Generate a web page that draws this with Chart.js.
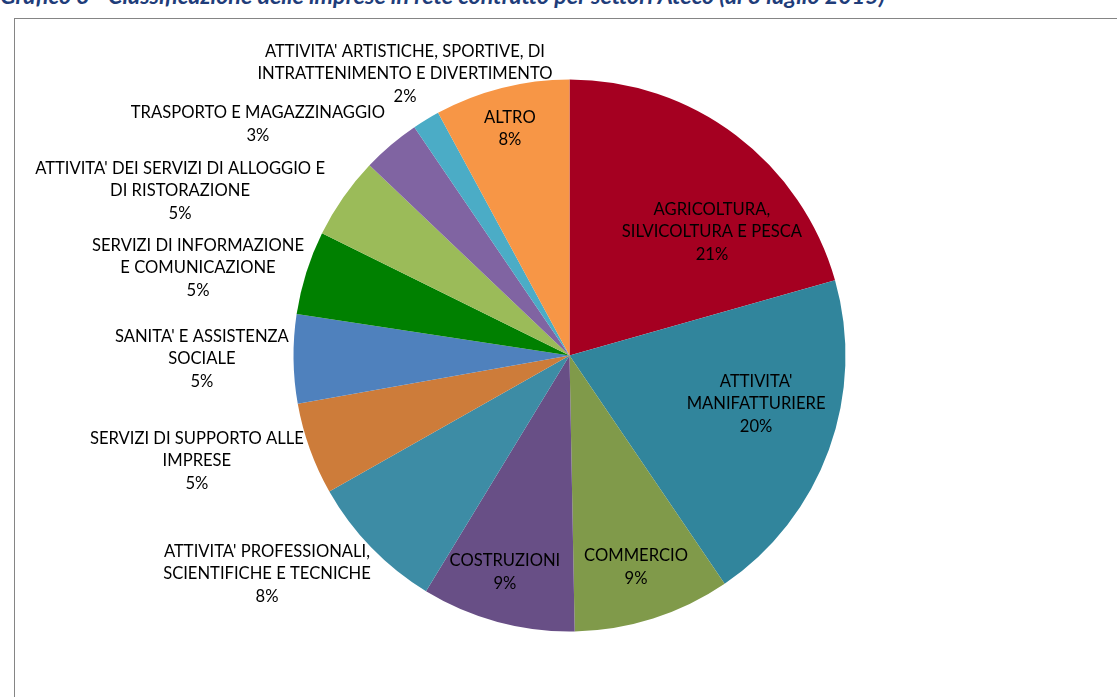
<!DOCTYPE html>
<html>
<head>
<meta charset="utf-8">
<script src="https://cdn.jsdelivr.net/npm/chart.js@4"></script>
<style>
    html, body { margin: 0; padding: 0; background: #fff; overflow: hidden; }
    #wrap { position: relative; width: 1117px; height: 697px; }
    #title {
        position: absolute; left: 0; top: -19px; white-space: nowrap; line-height: 23px;
        font: italic bold 23.3px Lato, "Liberation Sans", sans-serif; color: #1f3d7a;
    }
    #frame {
        position: absolute; left: 14px; top: 18px; width: 1120px; height: 700px;
        border: 1px solid #858585; box-sizing: border-box;
    }
    #chartBox { position: absolute; left: 0; top: 0; width: 1117px; height: 697px; }
</style>
</head>
<body>
<div id="wrap">
    <div id="title">Grafico 3 - Classificazione delle imprese in rete contratto per settori Ateco (al 3 luglio 2015)</div>
    <div id="frame"></div>
    <div id="chartBox"><canvas id="pieChart"></canvas></div>
</div>
<script>
// sectors, clockwise from 12 o'clock
const sectors = [
    ["AGRICOLTURA,", "SILVICOLTURA E PESCA"],
    ["ATTIVITA'", "MANIFATTURIERE"],
    ["COMMERCIO"],
    ["COSTRUZIONI"],
    ["ATTIVITA' PROFESSIONALI,", "SCIENTIFICHE E TECNICHE"],
    ["SERVIZI DI SUPPORTO ALLE", "IMPRESE"],
    ["SANITA' E ASSISTENZA", "SOCIALE"],
    ["SERVIZI DI INFORMAZIONE", "E COMUNICAZIONE"],
    ["ATTIVITA' DEI SERVIZI DI ALLOGGIO E", "DI RISTORAZIONE"],
    ["TRASPORTO E MAGAZZINAGGIO"],
    ["ATTIVITA' ARTISTICHE, SPORTIVE, DI", "INTRATTENIMENTO E DIVERTIMENTO"],
    ["ALTRO"]
];
// share of firms (%)
const shares = [20.6, 19.9, 9.2, 9.0, 8.1, 5.4, 5.2, 4.9, 4.8, 3.4, 1.6, 7.9];

const sliceColors = [
    '#a50021', '#31859c', '#809a4a', '#684f86', '#3d8ca5', '#cd7c3a',
    '#4f81bd', '#008000', '#9bbb59', '#8064a2', '#4bacc6', '#f79646'
];

// label anchor, relative to pie centre in units of radius
const labelSpots = [
    [0.516, -0.447], [0.676, 0.176], [0.241, 0.768], [-0.234, 0.786],
    [-1.096, 0.792], [-1.350, 0.382], [-1.332, 0.013], [-1.346, -0.317],
    [-1.411, -0.596], [-1.129, -0.838], [-0.596, -1.020], [-0.216, -0.822]
];

const labelPlugin = {
    id: 'sliceLabels',
    afterDatasetsDraw(chart) {
        const ctx = chart.ctx;
        const arcs = chart.getDatasetMeta(0).data;
        const total = shares.reduce((a, b) => a + b, 0);
        ctx.save();
        ctx.fillStyle = '#000';
        ctx.font = '16.6px Lato, "Liberation Sans", sans-serif';
        ctx.textAlign = 'center';
        ctx.textBaseline = 'middle';
        const lineH = 22.7;
        arcs.forEach((arc, i) => {
            const r = arc.outerRadius;
            const cx = arc.x + labelSpots[i][0] * r;
            const cy = arc.y + labelSpots[i][1] * r;
            const lines = sectors[i].concat([Math.round(shares[i] / total * 100) + '%']);
            const y0 = cy - (lines.length - 1) * lineH / 2;
            lines.forEach((t, k) => ctx.fillText(t, cx, y0 + k * lineH));
        });
        ctx.restore();
    }
};

new Chart(document.getElementById('pieChart'), {
    type: 'pie',
    data: {
        labels: sectors,
        datasets: [{
            data: shares,
            backgroundColor: sliceColors,
            borderWidth: 0
        }]
    },
    options: {
        responsive: true,
        maintainAspectRatio: false,
        animation: false,
        layout: { padding: { left: 293.5, right: 271.5, top: 79.5, bottom: 65.5 } },
        plugins: {
            legend: { display: false },
            tooltip: { enabled: false }
        }
    },
    plugins: [labelPlugin]
});
</script>
</body>
</html>
